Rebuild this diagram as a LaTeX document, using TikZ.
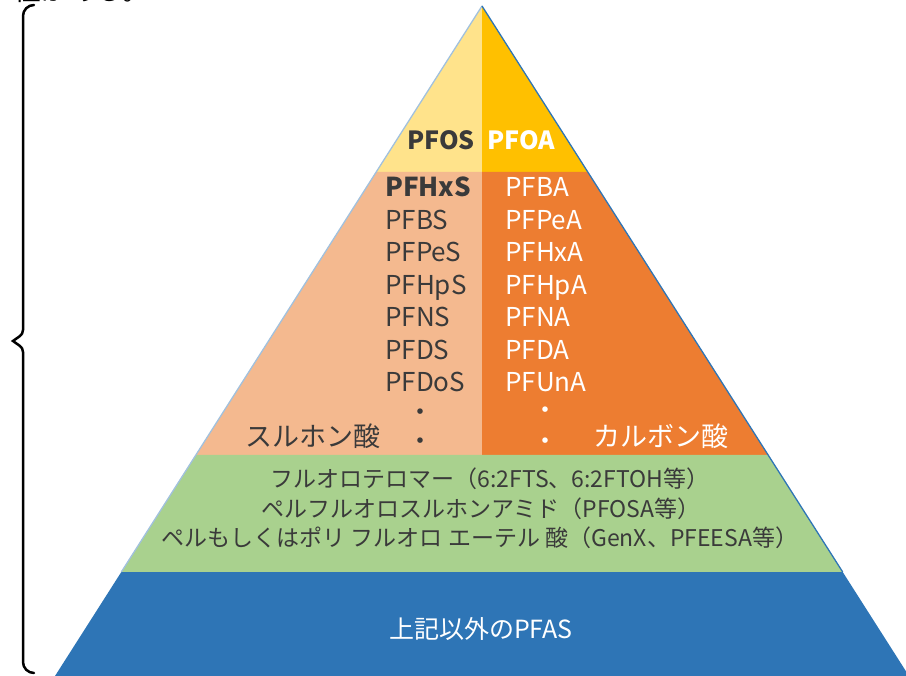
\documentclass[tikz,border=0pt]{standalone}
\usepackage{fontspec}
\setmainfont{Noto Sans CJK JP}
\definecolor{topleft}{HTML}{FFE38B}
\definecolor{topright}{HTML}{FFC000}
\definecolor{sulfonic}{HTML}{F4B98F}
\definecolor{carboxylic}{HTML}{ED7D31}
\definecolor{precursor}{HTML}{A9D18E}
\definecolor{others}{HTML}{2E75B6}
\definecolor{darktext}{HTML}{3A3A3A}
\tikzset{
  darklbl/.style={inner sep=0pt,text=darktext,font=\fontsize{26}{30}\selectfont},
  whitelbl/.style={inner sep=0pt,text=white,font=\fontsize{26}{30}\selectfont},
  greenlbl/.style={inner sep=0pt,text=darktext,font=\fontsize{23}{26}\selectfont},
}
\begin{document}
\begin{tikzpicture}[x=1pt,y=-1pt]
    \useasboundingbox (0,0) rectangle (906,676);
    %% Bands of the pyramid
    \fill[topleft] (482,6) -- (376.2,172) -- (482,172) -- cycle;
    \fill[topright] (482,6) -- (587.8,172) -- (482,172) -- cycle;
    \fill[sulfonic] (376.2,172) -- (482,172) -- (482,455) -- (195.8,455) -- cycle;
    \fill[carboxylic] (482,172) -- (587.8,172) -- (768.2,455) -- (482,455) -- cycle;
    \fill[precursor] (195.8,455) -- (768.2,455) -- (842.7,572) -- (121.3,572) -- cycle;
    \fill[others] (121.3,572) -- (842.7,572) -- (909,676) -- (55,676) -- cycle;
    %% Edges
    \draw[line width=1.3pt,color=others!45] (482,6) -- (121.3,572);
    \draw[line width=1.3pt,color=others] (482,6) -- (842.7,572);
    %% Top
    \node[darklbl,font=\fontsize{25}{30}\bfseries\selectfont,anchor=base east] (pfos) at (475,150) {PFOS};
    \node[whitelbl,font=\fontsize{25}{30}\bfseries\selectfont,anchor=base west] (pfoa) at (487,150) {PFOA};
    %% Sulfonic and carboxylic acids
    \node[darklbl,font=\fontsize{26}{30}\bfseries\selectfont,anchor=base west] (s0) at (385,197) {PFHxS};
    \foreach \name [count=\i] in {PFBS,PFPeS,PFHpS,PFNS,PFDS,PFDoS}
        \node[darklbl,anchor=base west] (s\i) at (385,197+32.5*\i) {\name};
    \foreach \name [count=\i from 0] in {PFBA,PFPeA,PFHxA,PFHpA,PFNA,PFDA,PFUnA}
        \node[whitelbl,anchor=base west] (c\i) at (505,197+32.5*\i) {\name};
    \node[darklbl,anchor=base] (sdot1) at (420,422) {・};
    \node[darklbl,anchor=base] (sdot2) at (420,451) {・};
    \node[whitelbl,anchor=base] (cdot1) at (545,420) {・};
    \node[whitelbl,anchor=base] (cdot2) at (545,451) {・};
    \node[darklbl,font=\fontsize{27}{30}\selectfont,anchor=base west] (sacid) at (245,447) {スルホン酸};
    \node[whitelbl,font=\fontsize{27}{30}\selectfont,anchor=base west] (cacid) at (593,447) {カルボン酸};
    %% Precursors
    \node[greenlbl,anchor=base] (ftoh) at (490,488) {フルオロテロマー（6:2FTS、6:2FTOH等）};
    \node[greenlbl,anchor=base] (fosa) at (481,518) {ペルフルオロスルホンアミド（PFOSA等）};
    \node[greenlbl,anchor=base] (genx) at (480,547) {ペルもしくはポリ フルオロ エーテル 酸（GenX、PFEESA等）};
    %% Others
    \node[whitelbl,font=\fontsize{25}{30}\selectfont,anchor=base] (rest) at (481,638) {上記以外のPFAS};
    %% Brace and cut heading
    \node[darklbl,text=black,font=\fontsize{27}{30}\selectfont,anchor=base east] (head) at (150,1) {性がある。};
    \draw[line width=2.5pt,line cap=round] (34,5) to[out=180,in=90] (23,16) -- (23,330)
        to[out=-90,in=40] (13,341) to[out=-40,in=90] (23,352) -- (23,662)
        to[out=-90,in=180] (34,673);
\end{tikzpicture}
\end{document}
